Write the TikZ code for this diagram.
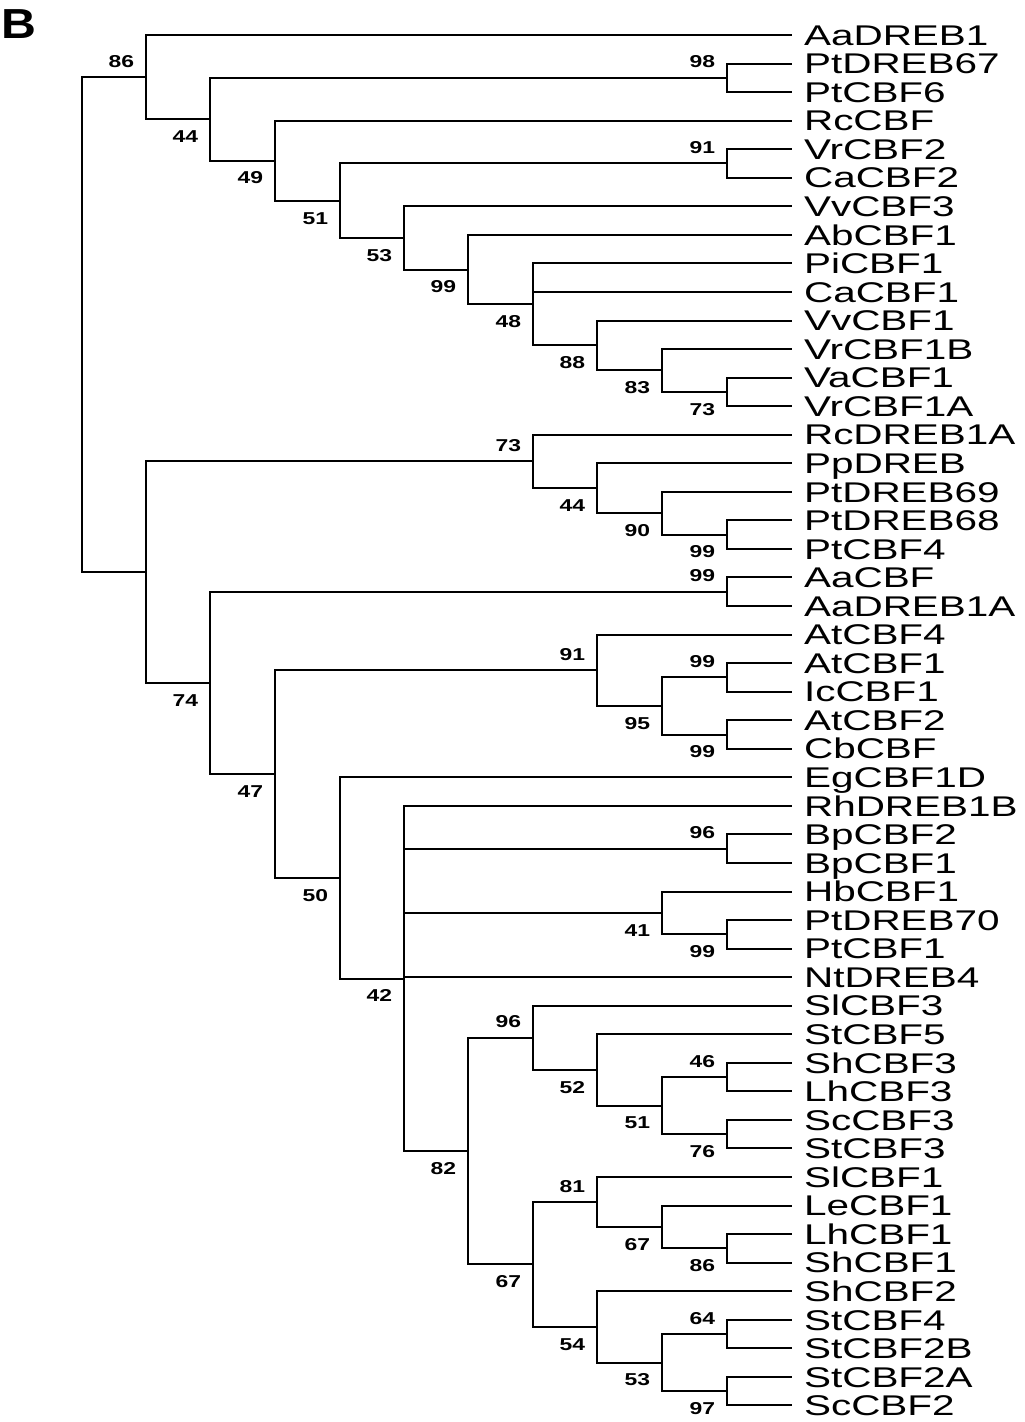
\documentclass[tikz,border=0pt]{standalone}
\usepackage{fontspec}
\usepackage{tikz}
\newfontfamily\leaffont[FakeStretch=1.42]{Liberation Sans}
\newfontfamily\bootfont[FakeStretch=1.33]{Liberation Sans Bold}
\newfontfamily\panelfont[FakeStretch=1.15]{Liberation Sans Bold}

\begin{document}
\begin{tikzpicture}[x=0.5pt, y=-14.275pt, line width=1pt,
    leaf/.style={anchor=west, inner xsep=5.5pt, inner ysep=0pt, text height=10.2pt, text depth=0pt,
        font=\leaffont\fontsize{14.25}{16}\selectfont},
    boot/.style={inner sep=0pt, xshift=-5.5pt, text height=6.15pt, text depth=0pt,
        font=\bootfont\fontsize{8.6}{9.5}\selectfont},
    bsup/.style={boot, anchor=south east, yshift=4.5pt},
    bsdown/.style={boot, anchor=north east, yshift=-5pt}]
    \useasboundingbox (0,-0.2259) rectangle (1024,49.58);

    % Panel letter
    \node[anchor=north west, inner sep=0pt, font=\panelfont\fontsize{21}{24}\selectfont] (panel) at (1,0.09) {B};

    % Leaves
    \node[leaf] (AaDREB1) at (792,1) {AaDREB1};
    \node[leaf] (PtDREB67) at (792,2) {PtDREB67};
    \node[leaf] (PtCBF6) at (792,3) {PtCBF6};
    \node[leaf] (RcCBF) at (792,4) {RcCBF};
    \node[leaf] (VrCBF2) at (792,5) {VrCBF2};
    \node[leaf] (CaCBF2) at (792,6) {CaCBF2};
    \node[leaf] (VvCBF3) at (792,7) {VvCBF3};
    \node[leaf] (AbCBF1) at (792,8) {AbCBF1};
    \node[leaf] (PiCBF1) at (792,9) {PiCBF1};
    \node[leaf] (CaCBF1) at (792,10) {CaCBF1};
    \node[leaf] (VvCBF1) at (792,11) {VvCBF1};
    \node[leaf] (VrCBF1B) at (792,12) {VrCBF1B};
    \node[leaf] (VaCBF1) at (792,13) {VaCBF1};
    \node[leaf] (VrCBF1A) at (792,14) {VrCBF1A};
    \node[leaf] (RcDREB1A) at (792,15) {RcDREB1A};
    \node[leaf] (PpDREB) at (792,16) {PpDREB};
    \node[leaf] (PtDREB69) at (792,17) {PtDREB69};
    \node[leaf] (PtDREB68) at (792,18) {PtDREB68};
    \node[leaf] (PtCBF4) at (792,19) {PtCBF4};
    \node[leaf] (AaCBF) at (792,20) {AaCBF};
    \node[leaf] (AaDREB1A) at (792,21) {AaDREB1A};
    \node[leaf] (AtCBF4) at (792,22) {AtCBF4};
    \node[leaf] (AtCBF1) at (792,23) {AtCBF1};
    \node[leaf] (IcCBF1) at (792,24) {IcCBF1};
    \node[leaf] (AtCBF2) at (792,25) {AtCBF2};
    \node[leaf] (CbCBF) at (792,26) {CbCBF};
    \node[leaf] (EgCBF1D) at (792,27) {EgCBF1D};
    \node[leaf] (RhDREB1B) at (792,28) {RhDREB1B};
    \node[leaf] (BpCBF2) at (792,29) {BpCBF2};
    \node[leaf] (BpCBF1) at (792,30) {BpCBF1};
    \node[leaf] (HbCBF1) at (792,31) {HbCBF1};
    \node[leaf] (PtDREB70) at (792,32) {PtDREB70};
    \node[leaf] (PtCBF1) at (792,33) {PtCBF1};
    \node[leaf] (NtDREB4) at (792,34) {NtDREB4};
    \node[leaf] (SlCBF3) at (792,35) {SlCBF3};
    \node[leaf] (StCBF5) at (792,36) {StCBF5};
    \node[leaf] (ShCBF3) at (792,37) {ShCBF3};
    \node[leaf] (LhCBF3) at (792,38) {LhCBF3};
    \node[leaf] (ScCBF3) at (792,39) {ScCBF3};
    \node[leaf] (StCBF3) at (792,40) {StCBF3};
    \node[leaf] (SlCBF1) at (792,41) {SlCBF1};
    \node[leaf] (LeCBF1) at (792,42) {LeCBF1};
    \node[leaf] (LhCBF1) at (792,43) {LhCBF1};
    \node[leaf] (ShCBF1) at (792,44) {ShCBF1};
    \node[leaf] (ShCBF2) at (792,45) {ShCBF2};
    \node[leaf] (StCBF4) at (792,46) {StCBF4};
    \node[leaf] (StCBF2B) at (792,47) {StCBF2B};
    \node[leaf] (StCBF2A) at (792,48) {StCBF2A};
    \node[leaf] (ScCBF2) at (792,49) {ScCBF2};

    % Internal nodes, upper clade
    \coordinate (root) at (82,11.1455);
    \coordinate (up) at (146,2.4756);
    \coordinate (up2) at (210,3.9512);
    \coordinate (pt67) at (727,2.5);
    \coordinate (rc) at (275,5.4023);
    \coordinate (vr) at (340,6.8047);
    \coordinate (vr2) at (727,5.5);
    \coordinate (vv3) at (404,8.1094);
    \coordinate (ab) at (468,9.2188);
    \coordinate (pi) at (533,10.4375);
    \coordinate (vv1) at (597,11.875);
    \coordinate (vr1b) at (662,12.75);
    \coordinate (va) at (727,13.5);

    % Internal nodes, lower clade
    \coordinate (low) at (146,19.8154);
    \coordinate (rcd) at (533,15.9375);
    \coordinate (pp) at (597,16.875);
    \coordinate (pt69) at (662,17.75);
    \coordinate (pt68) at (727,18.5);
    \coordinate (low2) at (210,23.6934);
    \coordinate (aa) at (727,20.5);
    \coordinate (at) at (275,26.8867);
    \coordinate (at4) at (597,23.25);
    \coordinate (at12) at (662,24.5);
    \coordinate (at1) at (727,23.5);
    \coordinate (at2) at (727,25.5);
    \coordinate (eg) at (340,30.5234);
    \coordinate (rh) at (404,34.0469);
    \coordinate (bp) at (727,29.5);
    \coordinate (hb) at (662,31.75);
    \coordinate (pt70) at (727,32.5);
    \coordinate (sol) at (468,40.0938);
    \coordinate (sl3) at (533,36.125);
    \coordinate (st5) at (597,37.25);
    \coordinate (sh3) at (662,38.5);
    \coordinate (lh3) at (727,37.5);
    \coordinate (sc3) at (727,39.5);
    \coordinate (sl1) at (533,44.0625);
    \coordinate (le) at (597,41.875);
    \coordinate (le1) at (662,42.75);
    \coordinate (lh1) at (727,43.5);
    \coordinate (sh2) at (597,46.25);
    \coordinate (st4) at (662,47.5);
    \coordinate (st2b) at (727,46.5);
    \coordinate (st2a) at (727,48.5);

    % Branches of the upper clade
    \draw (root) |- (up) node[bsup] (b1) {86};
    \draw (root) |- (low);
    \draw (up) |- (AaDREB1.west);
    \draw (up) |- (up2) node[bsdown] (b2) {44};
    \draw (up2) |- (pt67) node[bsup] (b3) {98};
    \draw (pt67) |- (PtDREB67.west);
    \draw (pt67) |- (PtCBF6.west);
    \draw (up2) |- (rc) node[bsdown] (b4) {49};
    \draw (rc) |- (RcCBF.west);
    \draw (rc) |- (vr) node[bsdown] (b5) {51};
    \draw (vr) |- (vr2) node[bsup] (b6) {91};
    \draw (vr2) |- (VrCBF2.west);
    \draw (vr2) |- (CaCBF2.west);
    \draw (vr) |- (vv3) node[bsdown] (b7) {53};
    \draw (vv3) |- (VvCBF3.west);
    \draw (vv3) |- (ab) node[bsdown] (b8) {99};
    \draw (ab) |- (AbCBF1.west);
    \draw (ab) |- (pi) node[bsdown] (b9) {48};
    \draw (pi) |- (PiCBF1.west);
    \draw (pi) |- (CaCBF1.west);
    \draw (pi) |- (vv1) node[bsdown] (b10) {88};
    \draw (vv1) |- (VvCBF1.west);
    \draw (vv1) |- (vr1b) node[bsdown] (b11) {83};
    \draw (vr1b) |- (VrCBF1B.west);
    \draw (vr1b) |- (va) node[bsdown] (b12) {73};
    \draw (va) |- (VaCBF1.west);
    \draw (va) |- (VrCBF1A.west);

    % Branches of the lower clade
    \draw (low) |- (rcd) node[bsup] (b13) {73};
    \draw (rcd) |- (RcDREB1A.west);
    \draw (rcd) |- (pp) node[bsdown] (b14) {44};
    \draw (pp) |- (PpDREB.west);
    \draw (pp) |- (pt69) node[bsdown] (b15) {90};
    \draw (pt69) |- (PtDREB69.west);
    \draw (pt69) |- (pt68) node[bsdown] (b16) {99};
    \draw (pt68) |- (PtDREB68.west);
    \draw (pt68) |- (PtCBF4.west);
    \draw (low) |- (low2) node[bsdown] (b17) {74};
    \draw (low2) |- (aa) node[bsup] (b18) {99};
    \draw (aa) |- (AaCBF.west);
    \draw (aa) |- (AaDREB1A.west);
    \draw (low2) |- (at) node[bsdown] (b19) {47};
    \draw (at) |- (at4) node[bsup] (b20) {91};
    \draw (at4) |- (AtCBF4.west);
    \draw (at4) |- (at12) node[bsdown] (b21) {95};
    \draw (at12) |- (at1) node[bsup] (b22) {99};
    \draw (at1) |- (AtCBF1.west);
    \draw (at1) |- (IcCBF1.west);
    \draw (at12) |- (at2) node[bsdown] (b23) {99};
    \draw (at2) |- (AtCBF2.west);
    \draw (at2) |- (CbCBF.west);
    \draw (at) |- (eg) node[bsdown] (b24) {50};
    \draw (eg) |- (EgCBF1D.west);
    \draw (eg) |- (rh) node[bsdown] (b25) {42};
    \draw (rh) |- (RhDREB1B.west);
    \draw (rh) |- (bp) node[bsup] (b26) {96};
    \draw (bp) |- (BpCBF2.west);
    \draw (bp) |- (BpCBF1.west);
    \draw (rh) |- (hb) node[bsdown] (b27) {41};
    \draw (hb) |- (HbCBF1.west);
    \draw (hb) |- (pt70) node[bsdown] (b28) {99};
    \draw (pt70) |- (PtDREB70.west);
    \draw (pt70) |- (PtCBF1.west);
    \draw (rh) |- (NtDREB4.west);
    \draw (rh) |- (sol) node[bsdown] (b29) {82};

    % Solanaceae group
    \draw (sol) |- (sl3) node[bsup] (b30) {96};
    \draw (sl3) |- (SlCBF3.west);
    \draw (sl3) |- (st5) node[bsdown] (b31) {52};
    \draw (st5) |- (StCBF5.west);
    \draw (st5) |- (sh3) node[bsdown] (b32) {51};
    \draw (sh3) |- (lh3) node[bsup] (b33) {46};
    \draw (lh3) |- (ShCBF3.west);
    \draw (lh3) |- (LhCBF3.west);
    \draw (sh3) |- (sc3) node[bsdown] (b34) {76};
    \draw (sc3) |- (ScCBF3.west);
    \draw (sc3) |- (StCBF3.west);
    \draw (sol) |- (sl1) node[bsdown] (b35) {67};
    \draw (sl1) |- (le) node[bsup] (b36) {81};
    \draw (le) |- (SlCBF1.west);
    \draw (le) |- (le1) node[bsdown] (b37) {67};
    \draw (le1) |- (LeCBF1.west);
    \draw (le1) |- (lh1) node[bsdown] (b38) {86};
    \draw (lh1) |- (LhCBF1.west);
    \draw (lh1) |- (ShCBF1.west);
    \draw (sl1) |- (sh2) node[bsdown] (b39) {54};
    \draw (sh2) |- (ShCBF2.west);
    \draw (sh2) |- (st4) node[bsdown] (b40) {53};
    \draw (st4) |- (st2b) node[bsup] (b41) {64};
    \draw (st2b) |- (StCBF4.west);
    \draw (st2b) |- (StCBF2B.west);
    \draw (st4) |- (st2a) node[bsdown] (b42) {97};
    \draw (st2a) |- (StCBF2A.west);
    \draw (st2a) |- (ScCBF2.west);
\end{tikzpicture}
\end{document}
